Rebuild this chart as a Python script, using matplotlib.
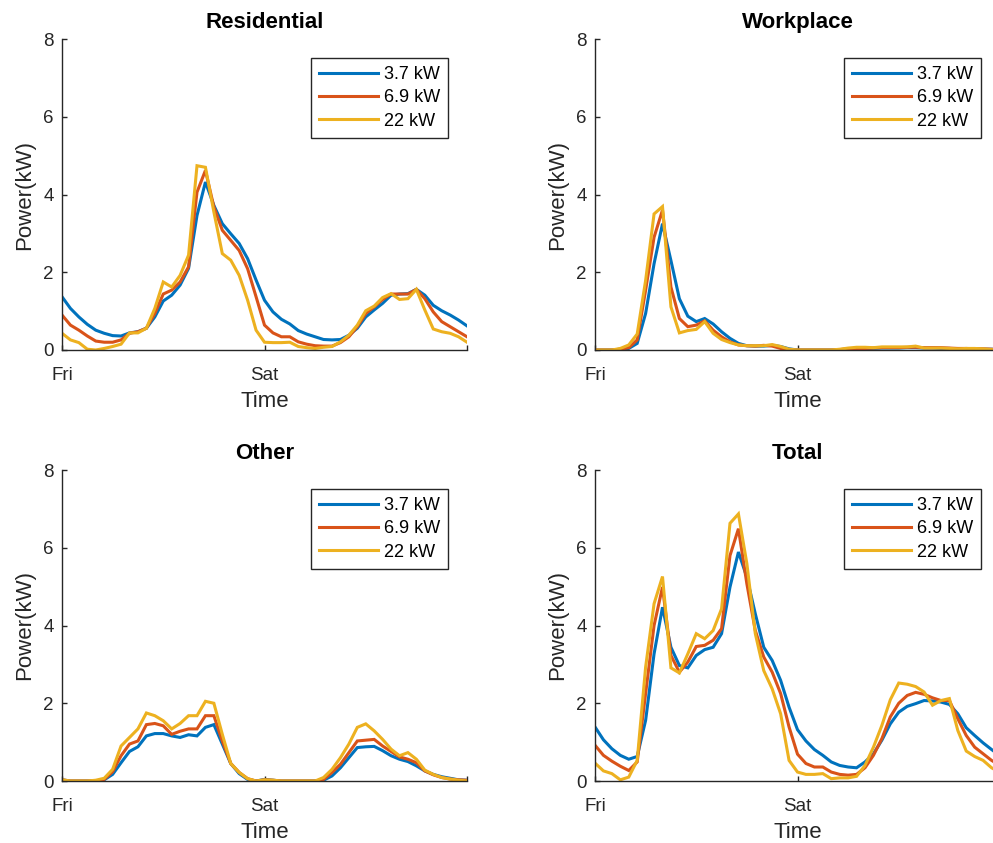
import numpy as np
import matplotlib
matplotlib.use("Agg")
import matplotlib.pyplot as plt

plt.rcParams['font.family'] = ['Liberation Sans', 'DejaVu Sans']

hours = np.arange(49)
x_tick_pos = [0, 24, 48]
x_tick_labels = ['Fri', 'Sat', '']
y_ticks = [0, 2, 4, 6, 8]
series_labels = ['3.7 kW', '6.9 kW', '22 kW']
colors = ['#0072BD', '#D95319', '#EDB120']
titles = ['Residential', 'Workplace', 'Other', 'Total']

res_37 = [1.37, 1.07, 0.85, 0.66, 0.51, 0.43, 0.37, 0.36, 0.44, 0.47, 0.56, 0.85, 1.26, 1.41, 1.67, 2.1,
          3.46, 4.32, 3.72, 3.25, 2.99, 2.74, 2.35, 1.8, 1.28, 0.98, 0.79, 0.67, 0.5, 0.41, 0.34, 0.27,
          0.26, 0.27, 0.38, 0.56, 0.85, 1.03, 1.2, 1.41, 1.44, 1.45, 1.56, 1.41, 1.15, 1.01, 0.9, 0.77, 0.62]
res_69 = [0.9, 0.64, 0.51, 0.36, 0.23, 0.2, 0.2, 0.26, 0.43, 0.47, 0.56, 0.94, 1.44, 1.54, 1.75, 2.14,
          4.06, 4.62, 3.68, 3.08, 2.82, 2.56, 2.09, 1.37, 0.64, 0.44, 0.34, 0.34, 0.21, 0.15, 0.11, 0.1,
          0.1, 0.19, 0.34, 0.6, 0.94, 1.11, 1.3, 1.44, 1.44, 1.44, 1.56, 1.32, 0.98, 0.73, 0.6, 0.47, 0.34]
res_22 = [0.43, 0.26, 0.19, 0.02, 0.0, 0.04, 0.09, 0.15, 0.44, 0.44, 0.56, 1.07, 1.75, 1.62, 1.92, 2.44,
          4.74, 4.7, 3.55, 2.48, 2.31, 1.92, 1.28, 0.51, 0.2, 0.19, 0.19, 0.2, 0.09, 0.06, 0.04, 0.07,
          0.09, 0.21, 0.38, 0.64, 1.01, 1.13, 1.35, 1.45, 1.3, 1.32, 1.56, 1.03, 0.54, 0.47, 0.43, 0.34, 0.2]

work_37 = [0, 0, 0, 0.02, 0.04, 0.17, 0.94, 2.22, 3.25, 2.3, 1.32, 0.87, 0.73, 0.81, 0.67, 0.47,
           0.3, 0.17, 0.11, 0.1, 0.1, 0.12, 0.09, 0.03, 0, 0, 0, 0, 0, 0.01, 0.02, 0.03,
           0.03, 0.04, 0.05, 0.05, 0.05, 0.06, 0.06, 0.05, 0.05, 0.04, 0.04, 0.03, 0.03, 0.03, 0.02, 0.02, 0.01]
work_69 = [0, 0, 0, 0.02, 0.06, 0.26, 1.54, 2.9, 3.6, 1.62, 0.81, 0.6, 0.64, 0.75, 0.51, 0.34,
           0.21, 0.13, 0.11, 0.1, 0.12, 0.1, 0.04, 0, 0, 0, 0, 0, 0, 0.01, 0.03, 0.04,
           0.04, 0.05, 0.06, 0.06, 0.06, 0.07, 0.07, 0.06, 0.06, 0.06, 0.05, 0.04, 0.04, 0.03, 0.03, 0.02, 0.01]
work_22 = [0, 0, 0, 0.04, 0.13, 0.41, 1.79, 3.5, 3.69, 1.11, 0.44, 0.5, 0.53, 0.73, 0.43, 0.27,
           0.19, 0.13, 0.11, 0.11, 0.11, 0.14, 0.09, 0.02, 0, 0, 0, 0, 0, 0.02, 0.05, 0.07,
           0.07, 0.06, 0.08, 0.08, 0.08, 0.08, 0.1, 0.05, 0.05, 0.05, 0.04, 0.03, 0.04, 0.04, 0.03, 0.01, 0.01]

oth_37 = [0.03, 0, 0, 0, 0, 0.03, 0.17, 0.47, 0.76, 0.88, 1.16, 1.22, 1.22, 1.16, 1.12, 1.19,
          1.16, 1.38, 1.45, 0.95, 0.45, 0.19, 0.04, 0, 0.04, 0.02, 0, 0, 0, 0, 0, 0.02,
          0.13, 0.34, 0.6, 0.86, 0.88, 0.89, 0.78, 0.65, 0.56, 0.5, 0.39, 0.26, 0.17, 0.11, 0.07, 0.03, 0.02]
oth_69 = [0.03, 0, 0, 0, 0, 0.04, 0.24, 0.65, 0.95, 1.03, 1.45, 1.48, 1.42, 1.2, 1.28, 1.34,
          1.34, 1.68, 1.68, 1.03, 0.45, 0.22, 0.06, 0, 0.03, 0.02, 0, 0, 0, 0, 0, 0.04,
          0.22, 0.43, 0.73, 1.03, 1.05, 1.07, 0.9, 0.76, 0.62, 0.56, 0.47, 0.26, 0.16, 0.09, 0.05, 0.03, 0.02]
oth_22 = [0.03, 0, 0, 0, 0.02, 0.07, 0.3, 0.9, 1.12, 1.34, 1.75, 1.68, 1.55, 1.34, 1.48, 1.68,
          1.68, 2.05, 2.0, 1.2, 0.45, 0.22, 0.06, 0, 0.03, 0.02, 0, 0, 0, 0, 0, 0.09,
          0.3, 0.6, 0.95, 1.38, 1.47, 1.29, 1.07, 0.82, 0.65, 0.73, 0.56, 0.28, 0.17, 0.09, 0.05, 0.02, 0]

tot_37 = [1.39, 1.06, 0.83, 0.66, 0.56, 0.63, 1.56, 3.27, 4.47, 3.44, 2.97, 2.91, 3.23, 3.38, 3.44, 3.79,
          4.99, 5.89, 5.24, 4.3, 3.44, 3.1, 2.59, 1.9, 1.32, 1.03, 0.81, 0.66, 0.49, 0.4, 0.36, 0.34,
          0.49, 0.7, 1.05, 1.47, 1.77, 1.92, 1.99, 2.07, 2.06, 2.03, 1.97, 1.73, 1.37, 1.17, 0.98, 0.81, 0.65]
tot_69 = [0.92, 0.66, 0.51, 0.38, 0.27, 0.49, 2.25, 4.0, 4.99, 3.23, 2.8, 3.06, 3.46, 3.49, 3.62, 3.92,
          5.8, 6.49, 5.07, 3.87, 3.19, 2.8, 2.25, 1.39, 0.69, 0.45, 0.36, 0.36, 0.23, 0.17, 0.15, 0.17,
          0.34, 0.66, 1.09, 1.65, 2.0, 2.2, 2.28, 2.23, 2.14, 2.07, 2.07, 1.6, 1.17, 0.87, 0.7, 0.53, 0.4]
tot_22 = [0.46, 0.26, 0.19, 0.03, 0.1, 0.53, 2.93, 4.56, 5.26, 2.91, 2.78, 3.27, 3.79, 3.66, 3.87, 4.43,
          6.63, 6.87, 5.59, 3.79, 2.84, 2.37, 1.73, 0.53, 0.23, 0.17, 0.17, 0.19, 0.06, 0.08, 0.08, 0.12,
          0.4, 0.87, 1.43, 2.09, 2.52, 2.49, 2.43, 2.29, 1.95, 2.07, 2.12, 1.3, 0.77, 0.63, 0.53, 0.34, 0.22]

panels = [
    (res_37, res_69, res_22),
    (work_37, work_69, work_22),
    (oth_37, oth_69, oth_22),
    (tot_37, tot_69, tot_22),
]

W, H = 993, 843
fig = plt.figure(figsize=(W / 100, H / 100), dpi=100)

ax_w = 405 / W
ax_h = 311 / H
lefts = [62 / W, 595 / W]
bottoms = [1 - 350 / H, 1 - 781 / H]
spine_c = '#262626'

for i, (title, data) in enumerate(zip(titles, panels)):
    r, c = divmod(i, 2)
    ax = fig.add_axes([lefts[c], bottoms[r], ax_w, ax_h])
    for vals, col, lab in zip(data, colors, series_labels):
        ax.plot(hours, vals, color=col, lw=2.2, label=lab, solid_joinstyle='miter')
    ax.set_xlim(0, 48)
    ax.set_ylim(0, 8)
    ax.set_xticks(x_tick_pos)
    ax.set_xticklabels(x_tick_labels)
    ax.set_yticks(y_ticks)
    for s in ['top', 'right']:
        ax.spines[s].set_visible(False)
    for s in ['left', 'bottom']:
        ax.spines[s].set_color(spine_c)
        ax.spines[s].set_linewidth(1.0)
    ax.tick_params(direction='in', length=3.5, width=1.0, color=spine_c,
                   labelcolor=spine_c, labelsize=13.5)
    ax.tick_params(axis='x', pad=12)
    ax.tick_params(axis='y', pad=6)
    ax.set_xlabel('Time', fontsize=16, color=spine_c, labelpad=5.5)
    ax.set_ylabel('Power(kW)', fontsize=16, color=spine_c, labelpad=6)
    ax.set_title(title, fontsize=16, fontweight='bold', pad=8)
    leg = ax.legend(loc='upper right', bbox_to_anchor=(386 / 405, 292 / 311),
                    borderaxespad=0, fontsize=13, fancybox=False, framealpha=1,
                    edgecolor=spine_c, handlelength=3.3, handletextpad=0.3,
                    labelspacing=0.35, borderpad=0.45)
    leg.get_frame().set_linewidth(1.0)
    for t in leg.get_texts():
        t.set_color('black')

fig.savefig('out.png', dpi=100)
